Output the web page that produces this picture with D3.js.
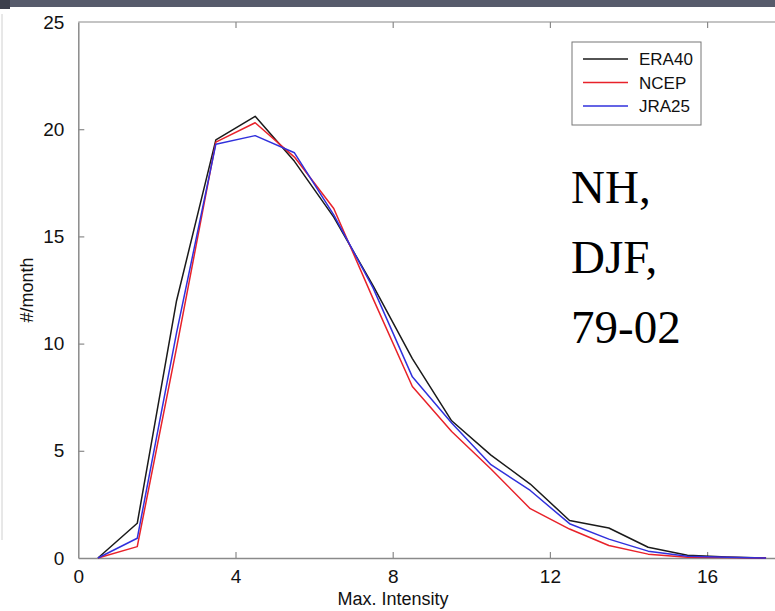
<!DOCTYPE html>
<html>
<head>
<meta charset="utf-8">
<script src="https://cdn.jsdelivr.net/npm/d3@7"></script>
<style>
  body { margin: 0; background: #fff; }
  svg { display: block; font-family: Arial, "Liberation Sans", sans-serif; }
</style>
</head>
<body>
<svg id="chart" width="775" height="611"></svg>
<script>
// bin centres of max. intensity
const intensity = [0.5, 1.5, 2.5, 3.5, 4.5, 5.5, 6.5, 7.5, 8.5, 9.5, 10.5, 11.5, 12.5, 13.5, 14.5, 15.5, 16.5, 17.5];
// #/month per reanalysis
const era40 = [0, 1.62, 12.0, 19.5, 20.6, 18.5, 15.9, 12.7, 9.3, 6.4, 4.8, 3.45, 1.75, 1.4, 0.5, 0.13, 0.05, 0];
const ncep  = [0, 0.53, 9.8, 19.4, 20.3, 18.7, 16.3, 12.1, 8.0, 5.9, 4.15, 2.3, 1.35, 0.58, 0.18, 0.04, 0.02, 0];
const jra25 = [0, 0.92, 10.5, 19.3, 19.7, 18.9, 16.0, 12.6, 8.45, 6.3, 4.35, 3.15, 1.6, 0.88, 0.32, 0.08, 0.03, 0];
const xTicks = [0, 4, 8, 12, 16];
const yTicks = [0, 5, 10, 15, 20, 25];

const series = [
  { name: 'ERA40', values: era40, color: '#1a1a1a' },
  { name: 'NCEP',  values: ncep,  color: '#e8222a' },
  { name: 'JRA25', values: jra25, color: '#3030dc' }
];

const svg = d3.select('#chart');

// slide remnants: dark band on top and thin border on the left
svg.append('rect').attr('x', 0).attr('y', 0).attr('width', 775).attr('height', 7).attr('fill', '#575b6b');
svg.append('rect').attr('x', 0).attr('y', 0).attr('width', 10).attr('height', 9).attr('fill', '#3c3f4c');
svg.append('line').attr('x1', 2).attr('x2', 2).attr('y1', 14).attr('y2', 540)
  .attr('stroke', '#d0d0d0').attr('stroke-width', 1);

const x = d3.scaleLinear().domain([0, 18]).range([78.3, 785.7]);
const y = d3.scaleLinear().domain([0, 25]).range([558, 22]);

const axisColor = '#8a8a8a';

// frame top edge
svg.append('line').attr('x1', x(0)).attr('x2', 775).attr('y1', y(25)).attr('y2', y(25))
  .attr('stroke', axisColor).attr('stroke-width', 1.2);

// x axis at bottom, ticks pointing inward
const xAxis = svg.append('g').attr('transform', `translate(0,${y(0)})`)
  .call(d3.axisBottom(x).tickValues(xTicks).tickSizeInner(-6).tickSizeOuter(0).tickPadding(12));
// top ticks
const xTop = svg.append('g').attr('transform', `translate(0,${y(25)})`)
  .call(d3.axisTop(x).tickValues(xTicks.slice(1)).tickSizeInner(-6).tickSizeOuter(0).tickFormat(''));
xTop.select('.domain').remove();

// y axis on left, ticks pointing inward
const yAxis = svg.append('g').attr('transform', `translate(${x(0)},0)`)
  .call(d3.axisLeft(y).tickValues(yTicks).tickSizeInner(-6).tickSizeOuter(0).tickPadding(14));

[xAxis, yAxis, xTop].forEach(g => {
  g.select('.domain').attr('stroke', axisColor).attr('stroke-width', 1.5);
  g.selectAll('.tick line').attr('stroke', axisColor).attr('stroke-width', 1.2);
  g.selectAll('.tick text').attr('fill', '#111').style('font-size', '19px').style('font-family', 'Arial, "Liberation Sans", sans-serif');
});
xAxis.select('.tick line').remove();
yAxis.selectAll('.tick').filter(d => d === 0 || d === 25).select('line').remove();
xAxis.selectAll('.tick text').attr('dy', '0.71em');

// axis titles
svg.append('text').attr('x', 393).attr('y', 605).attr('text-anchor', 'middle')
  .style('font-size', '18px').attr('fill', '#111').text('Max. Intensity');
svg.append('text').attr('transform', `translate(33,${y(12.5)}) rotate(-90)`).attr('text-anchor', 'middle')
  .style('font-size', '18px').attr('fill', '#111').text('#/month');

// lines
const line = vals => d3.line().x((d, i) => x(intensity[i])).y(d => y(d))(vals);
svg.selectAll('.series').data(series).enter().append('path')
  .attr('class', 'series')
  .attr('d', d => line(d.values))
  .attr('fill', 'none')
  .attr('stroke', d => d.color)
  .attr('stroke-width', 1.5)
  .attr('stroke-linejoin', 'round');

// legend
const legend = svg.append('g').attr('transform', 'translate(572,42)');
legend.append('rect').attr('width', 129).attr('height', 83)
  .attr('fill', '#fff').attr('stroke', '#777').attr('stroke-width', 1);
series.forEach((s, i) => {
  const g = legend.append('g').attr('transform', `translate(0,${17 + i * 23.5})`);
  g.append('line').attr('x1', 11).attr('x2', 56).attr('stroke', s.color).attr('stroke-width', 1.3);
  g.append('text').attr('x', 67).attr('dy', '0.36em').style('font-size', '17px').attr('fill', '#111').text(s.name);
});

// annotation
const note = svg.append('text').attr('fill', '#000')
  .style('font-family', '"Liberation Serif", "Times New Roman", serif').style('font-size', '47px');
['NH,', 'DJF,', '79-02'].forEach((t, i) => {
  note.append('tspan').attr('x', 571).attr('y', 203 + i * 70).text(t);
});
</script>
</body>
</html>
